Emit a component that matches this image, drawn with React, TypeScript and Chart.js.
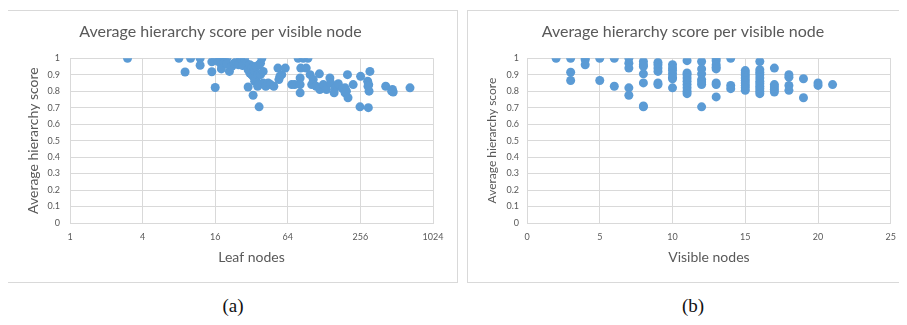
import React, { useEffect, useRef } from "react";
import { Chart, registerables } from "chart.js";

Chart.register(...registerables);

// Text
const CHART_TITLE = "Average hierarchy score per visible node";
const Y_TITLE = "Average hierarchy score";
const LEAF_TITLE = "Leaf nodes";
const VISIBLE_TITLE = "Visible nodes";
const CAPTION_A = "(a)";
const CAPTION_B = "(b)";

// Tick values
const LEAF_TICKS = [1, 4, 16, 64, 256, 1024];
const VISIBLE_TICKS = [0, 5, 10, 15, 20, 25];
const SCORE_TICKS = [0, 0.1, 0.2, 0.3, 0.4, 0.5, 0.6, 0.7, 0.8, 0.9, 1];

// Panel (a): leaf nodes vs. score
const leafNodes = [
  3, 8, 9, 10, 12, 12, 15, 15, 16, 16,
  17, 17.5, 18, 18, 19, 19, 20, 20, 21, 22,
  23, 24, 25, 26, 27, 28, 29, 30, 30, 31,
  31, 32, 32, 33, 33, 34, 34, 35, 35, 36,
  36, 37, 37, 38, 38, 39, 40, 40, 42, 44,
  46, 49, 30, 33, 37,
  53, 54, 55, 57, 61, 69, 73, 78, 86, 94,
  82, 91, 81, 81, 81,
  98, 104, 117, 101, 110, 118, 126, 134, 143, 145,
  158, 168, 155, 182, 191, 191,
  200, 202, 196, 223,
  257, 254, 298, 307, 294, 300, 296, 302,
  415, 465, 472, 479, 660,
];
const leafScores = [
  1.0, 1.0, 0.916, 1.0, 1.0, 0.957, 0.978, 0.918, 1.0, 0.822,
  0.98, 1.0, 0.96, 0.935, 1.0, 0.975, 1.0, 0.965, 0.92, 0.95,
  0.97, 0.98, 0.96, 1.0, 0.955, 1.0, 0.97, 0.95, 0.93, 0.91,
  0.96, 0.94, 0.9, 0.95, 0.89, 0.92, 0.86, 0.95, 0.88, 0.9,
  0.83, 0.96, 0.84, 0.97, 0.9, 1.0, 0.92, 0.85, 0.83, 0.85,
  0.84, 0.83, 0.825, 0.775, 0.705,
  0.94, 0.87, 0.89, 0.9, 0.94, 0.84, 0.84, 1.0, 1.0, 1.0,
  0.94, 0.94, 0.88, 0.84, 0.79,
  0.9, 0.87, 0.905, 0.84, 0.83, 0.81, 0.84, 0.81, 0.88, 0.85,
  0.82, 0.845, 0.79, 0.815, 0.79, 0.82,
  0.9, 0.76, 0.8, 0.84,
  0.89, 0.705, 0.7, 0.92, 0.86, 0.84, 0.83, 0.8,
  0.83, 0.8, 0.81, 0.795, 0.82,
];

// Panel (b): visible nodes vs. score
const visibleNodes = [
  2,
  3, 3, 3,
  4, 4, 4,
  5, 5,
  6, 6,
  7, 7, 7, 7, 7,
  8, 8, 8, 8, 8, 8, 8,
  9, 9, 9, 9, 9, 9,
  10, 10, 10, 10, 10, 10, 10,
  11, 11, 11, 11, 11, 11, 11, 11, 11,
  12, 12, 12, 12, 12, 12, 12,
  13, 13, 13, 13, 13, 13, 13, 13,
  14, 14, 14,
  15, 15, 15, 15, 15, 15, 15, 15, 15,
  16, 16, 16, 16, 16, 16, 16, 16, 16, 16, 16,
  17, 17, 17, 17, 17,
  18, 18, 18, 18,
  19, 19,
  20, 20,
  21,
];
const visibleScores = [
  1.0,
  1.0, 0.915, 0.865,
  1.0, 0.99, 0.96,
  1.0, 0.865,
  1.0, 0.83,
  1.0, 0.97, 0.94, 0.82, 0.775,
  0.98, 0.96, 0.95, 0.905, 0.85, 0.71, 0.705,
  0.975, 0.96, 0.94, 0.92, 0.85, 0.84,
  0.96, 0.94, 0.925, 0.905, 0.885, 0.875, 0.82,
  0.985, 0.91, 0.9, 0.88, 0.86, 0.84, 0.82, 0.8, 0.785,
  0.98, 0.935, 0.905, 0.87, 0.855, 0.84, 0.705,
  1.0, 0.985, 0.96, 0.945, 0.935, 0.85, 0.84, 0.765,
  1.0, 0.835, 0.815,
  0.925, 0.91, 0.895, 0.88, 0.865, 0.85, 0.835, 0.82, 0.805,
  0.98, 0.93, 0.915, 0.9, 0.88, 0.86, 0.845, 0.83, 0.815, 0.8, 0.785,
  0.94, 0.84, 0.825, 0.81, 0.795,
  0.9, 0.885, 0.835, 0.805,
  0.875, 0.76,
  0.85, 0.835,
  0.84,
];

const POINT_COLOR = "#5b9bd5";
const GRID_COLOR = "#d9d9d9";
const TEXT_COLOR = "#595959";
const FONT = "Lato";

type PanelProps = {
  width: number;
  height: number;
  xs: number[];
  ys: number[];
  logX: boolean;
  xTicks: number[];
  xTitle: string;
  yTitleSize: number;
  yTitlePad: number;
  yAxisWidth: number;
  yTickPad: number;
  rightPad: number;
};

function ScatterPanel(p: PanelProps) {
  const ref = useRef<HTMLCanvasElement | null>(null);

  useEffect(() => {
    if (!ref.current) return;
    const points = p.xs.map((x, i) => ({ x, y: p.ys[i] }));
    const chart = new Chart(ref.current, {
      type: "scatter",
      data: {
        datasets: [
          {
            data: points,
            pointRadius: 4.5,
            pointHoverRadius: 4.5,
            pointBackgroundColor: POINT_COLOR,
            pointBorderWidth: 0,
            borderColor: POINT_COLOR,
          },
        ],
      },
      options: {
        responsive: false,
        animation: false,
        events: [],
        layout: { padding: { left: 0, right: p.rightPad, top: 0, bottom: 0 } },
        plugins: {
          legend: { display: false },
          tooltip: { enabled: false },
          title: {
            display: true,
            text: CHART_TITLE,
            color: TEXT_COLOR,
            font: { family: FONT, size: 16, weight: "normal" },
            padding: { top: 11, bottom: 17 },
          },
        },
        scales: {
          x: {
            type: p.logX ? "logarithmic" : "linear",
            min: p.xTicks[0],
            max: p.xTicks[p.xTicks.length - 1],
            afterBuildTicks: (scale: any) => {
              scale.ticks = p.xTicks.map((v) => ({ value: v }));
            },
            afterFit: (scale: any) => {
              scale.height = p.height - 212;
            },
            grid: { color: GRID_COLOR, drawTicks: false },
            border: { color: GRID_COLOR },
            ticks: {
              color: TEXT_COLOR,
              font: { family: FONT, size: 9 },
              padding: 9,
              maxRotation: 0,
              autoSkip: false,
              callback: (v: any) => String(v),
            },
            title: {
              display: true,
              text: p.xTitle,
              color: TEXT_COLOR,
              font: { family: FONT, size: 14 },
              padding: { top: 0, bottom: 16 },
            },
          },
          y: {
            type: "linear",
            min: 0,
            max: 1,
            afterBuildTicks: (scale: any) => {
              scale.ticks = SCORE_TICKS.map((v) => ({ value: v }));
            },
            afterFit: (scale: any) => {
              scale.width = p.yAxisWidth;
            },
            grid: { color: GRID_COLOR, drawTicks: false },
            border: { color: GRID_COLOR },
            ticks: {
              color: TEXT_COLOR,
              font: { family: FONT, size: 9 },
              padding: p.yTickPad,
              callback: (v: any) => String(Number(Number(v).toFixed(1))),
            },
            title: {
              display: true,
              text: Y_TITLE,
              color: TEXT_COLOR,
              font: { family: FONT, size: p.yTitleSize },
              padding: { top: p.yTitlePad, bottom: 0 },
            },
          },
        },
      },
    });
    return () => chart.destroy();
  }, []);

  return (
    <canvas
      ref={ref}
      width={p.width}
      height={p.height}
      style={{ display: "block", width: p.width, height: p.height }}
    />
  );
}

const boxStyle = (left: number, width: number): React.CSSProperties => ({
  position: "absolute",
  left,
  top: 10,
  width,
  height: 273,
  boxSizing: "border-box",
  border: `1px solid ${GRID_COLOR}`,
  background: "#fff",
});

const captionStyle = (center: number): React.CSSProperties => ({
  position: "absolute",
  left: center - 40,
  width: 80,
  top: 295,
  textAlign: "center",
  fontFamily: "'Liberation Serif', serif",
  fontSize: 19,
  lineHeight: "22px",
  color: "#111",
});

export default function App() {
  return (
    <div
      style={{
        position: "relative",
        width: 907,
        height: 325,
        margin: -8,
        background: "#fff",
        overflow: "hidden",
      }}
    >
      <div style={boxStyle(7, 451)}>
        <ScatterPanel
          width={449}
          height={271}
          xs={leafNodes}
          ys={leafScores}
          logX={true}
          xTicks={LEAF_TICKS}
          xTitle={LEAF_TITLE}
          yTitleSize={14}
          yTitlePad={17}
          yAxisWidth={62}
          yTickPad={10}
          rightPad={24}
        />
      </div>
      <div style={boxStyle(467, 439)}>
        <ScatterPanel
          width={437}
          height={271}
          xs={visibleNodes}
          ys={visibleScores}
          logX={false}
          xTicks={VISIBLE_TICKS}
          xTitle={VISIBLE_TITLE}
          yTitleSize={12}
          yTitlePad={17}
          yAxisWidth={59}
          yTickPad={8}
          rightPad={7}
        />
      </div>
      <div style={captionStyle(233)}>{CAPTION_A}</div>
      <div style={captionStyle(693)}>{CAPTION_B}</div>
    </div>
  );
}
